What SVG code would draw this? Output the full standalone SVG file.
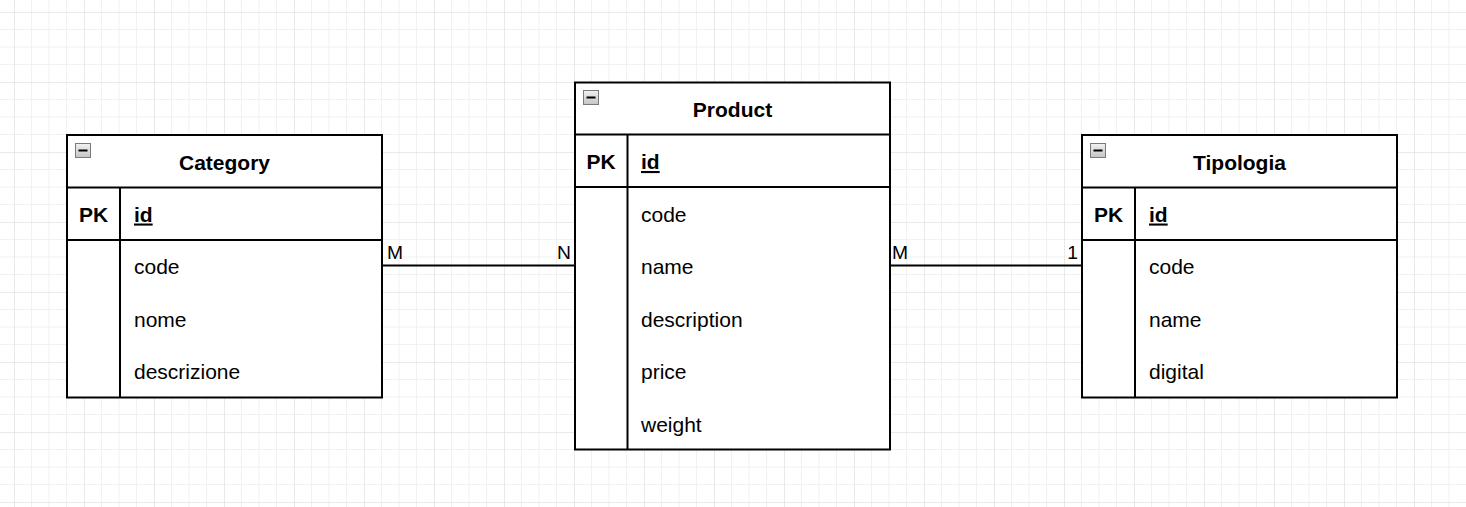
<svg xmlns="http://www.w3.org/2000/svg" width="1466" height="507" viewBox="0 0 1466 507">
<style>
.box{fill:#fff;stroke:#000;stroke-width:2}
.ln{stroke:#000;stroke-width:2;fill:none}
.title{font-family:"Liberation Sans",Arial,sans-serif;font-size:21px;font-weight:bold;text-anchor:middle;fill:#000}
.pk{font-family:"Liberation Sans",Arial,sans-serif;font-size:21px;font-weight:bold;text-anchor:middle;fill:#000}
.key{font-family:"Liberation Sans",Arial,sans-serif;font-size:21px;font-weight:bold;text-decoration:underline;fill:#000}
.fld{font-family:"Liberation Sans",Arial,sans-serif;font-size:21px;fill:#000}
.lbl{font-family:"Liberation Sans",Arial,sans-serif;font-size:19.25px;fill:#000}
.icon{fill:url(#ig);stroke:#7a7a7a;stroke-width:1}
</style>
<defs>
<pattern id="grid" patternUnits="userSpaceOnUse" x="14" y="12" width="70" height="70">
<path d="M17.5 0V70M35 0V70M52.5 0V70M0 17.5H70M0 35H70M0 52.5H70" stroke="#f1f1f1" stroke-width="1" fill="none"/>
<path d="M0 0V70M0 0H70" stroke="#e2e2e2" stroke-width="1.5" fill="none"/>
</pattern>
<linearGradient id="ig" x1="0" y1="0" x2="0" y2="1">
<stop offset="0" stop-color="#f2f2f2"/>
<stop offset="1" stop-color="#c4c4c4"/>
</linearGradient>
<g id="minus">
<rect class="icon" x="0.5" y="0.5" width="15" height="14"/>
<rect x="3.5" y="6.5" width="9" height="2" fill="#000"/>
</g>
</defs>
<rect width="1466" height="507" fill="#fff"/>
<rect width="1466" height="507" fill="url(#grid)"/>

<g id="connectors">
<line class="ln" x1="382" y1="265.5" x2="575" y2="265.5"/>
<line class="ln" x1="890" y1="265.5" x2="1082" y2="265.5"/>
<text class="lbl" x="387" y="259">M</text>
<text class="lbl" x="571" y="259" text-anchor="end">N</text>
<text class="lbl" x="892" y="259">M</text>
<text class="lbl" x="1078" y="259" text-anchor="end">1</text>
</g>

<g id="category">
<rect class="box" x="67" y="135" width="315" height="262.5"/>
<line class="ln" x1="67" y1="187.5" x2="382" y2="187.5"/>
<line class="ln" x1="67" y1="240" x2="382" y2="240"/>
<line class="ln" x1="120" y1="187.5" x2="120" y2="397.5"/>
<use href="#minus" x="75" y="143"/>
<text class="title" x="224.5" y="169.5">Category</text>
<text class="pk" x="93.5" y="221.5">PK</text>
<text class="key" x="134" y="221.5">id</text>
<text class="fld" x="134" y="274">code</text>
<text class="fld" x="134" y="326.5">nome</text>
<text class="fld" x="134" y="379">descrizione</text>
</g>

<g id="product">
<rect class="box" x="575" y="82.5" width="315" height="367"/>
<line class="ln" x1="575" y1="134.5" x2="890" y2="134.5"/>
<line class="ln" x1="575" y1="187" x2="890" y2="187"/>
<line class="ln" x1="627.5" y1="134.5" x2="627.5" y2="449.5"/>
<use href="#minus" x="583" y="90"/>
<text class="title" x="732.5" y="117">Product</text>
<text class="pk" x="601" y="169">PK</text>
<text class="key" x="641" y="169">id</text>
<text class="fld" x="641" y="221.5">code</text>
<text class="fld" x="641" y="274">name</text>
<text class="fld" x="641" y="326.5">description</text>
<text class="fld" x="641" y="379">price</text>
<text class="fld" x="641" y="431.5">weight</text>
</g>

<g id="tipologia">
<rect class="box" x="1082" y="135" width="315" height="262.5"/>
<line class="ln" x1="1082" y1="187.5" x2="1397" y2="187.5"/>
<line class="ln" x1="1082" y1="240" x2="1397" y2="240"/>
<line class="ln" x1="1135" y1="187.5" x2="1135" y2="397.5"/>
<use href="#minus" x="1090" y="143"/>
<text class="title" x="1239.5" y="169.5">Tipologia</text>
<text class="pk" x="1108.5" y="221.5">PK</text>
<text class="key" x="1149" y="221.5">id</text>
<text class="fld" x="1149" y="274">code</text>
<text class="fld" x="1149" y="326.5">name</text>
<text class="fld" x="1149" y="379">digital</text>
</g>
</svg>
